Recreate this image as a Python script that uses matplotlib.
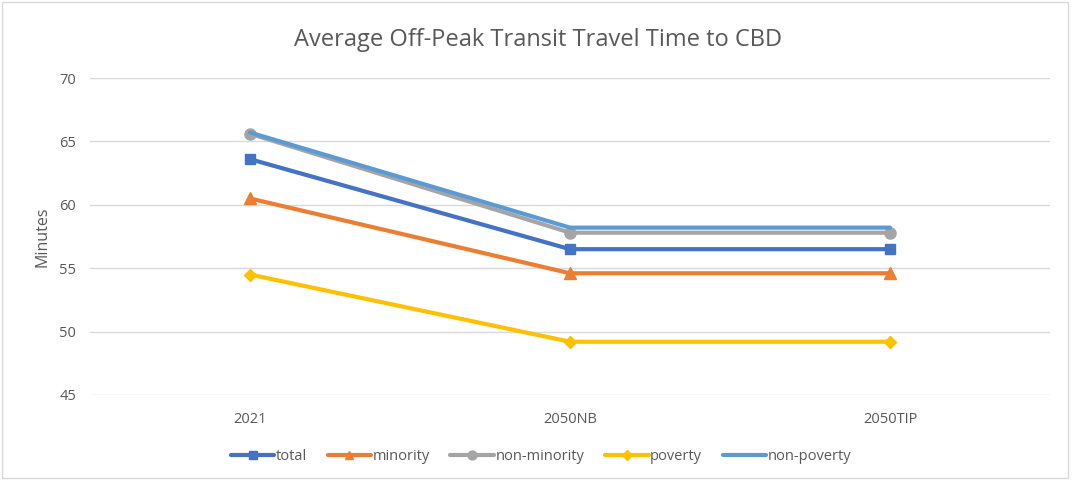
import matplotlib
matplotlib.use("Agg")
import matplotlib.pyplot as plt
from matplotlib.patches import Rectangle

categories = ["2021", "2050NB", "2050TIP"]
total = [63.6, 56.5, 56.5]
minority = [60.5, 54.6, 54.6]
non_minority = [65.6, 57.8, 57.8]
poverty = [54.5, 49.2, 49.2]
non_poverty = [65.7, 58.2, 58.2]
yticks = [45, 50, 55, 60, 65, 70]

plt.rcParams['font.family'] = ['Open Sans', 'DejaVu Sans']

fig = plt.figure(figsize=(10.73, 4.8), dpi=100)
ax = fig.add_axes([90/1073, 1-395/480, 960/1073, 317/480])

x = list(range(len(categories)))
series = [
    ("total", total, "#4472C4", "s", 7),
    ("minority", minority, "#ED7D31", "^", 8),
    ("non-minority", non_minority, "#A5A5A5", "o", 8),
    ("poverty", poverty, "#FFC000", "D", 6),
    ("non-poverty", non_poverty, "#5B9BD5", None, 0),
]
for name, vals, col, mk, ms in series:
    ax.plot(x, vals, color=col, lw=3, marker=mk, markersize=ms, label=name,
            solid_capstyle='round')

ax.set_xlim(-0.5, 2.5)
ax.set_ylim(45, 70)
ax.set_yticks(yticks)
ax.set_xticks(x)
ax.set_xticklabels(categories)
ax.grid(axis='y', color='#D9D9D9', lw=1)
ax.set_axisbelow(True)
for s in ax.spines.values():
    s.set_visible(False)
ax.tick_params(length=0, colors='#595959', labelsize=10.5, pad=10)
ax.tick_params(axis='x', pad=12)
ax.set_ylabel("Minutes", color='#595959', fontsize=11.5, labelpad=6)

fig.text(538/1073, 1-40/480, "Average Off-Peak Transit Travel Time to CBD",
         ha='center', va='center', fontsize=17, color='#595959')

leg = fig.legend(loc='center', bbox_to_anchor=(541/1073, 1-457/480), ncol=5,
                 frameon=False, fontsize=10.5, handlelength=3, columnspacing=1.4,
                 handletextpad=0.1, labelcolor='#595959', markerscale=0.8)

fig.patches.append(Rectangle((2/1073, 2/480), 1066/1073, 476/480, transform=fig.transFigure,
                             fill=False, edgecolor='#D9D9D9', lw=1))

fig.savefig("out.png", dpi=100)
